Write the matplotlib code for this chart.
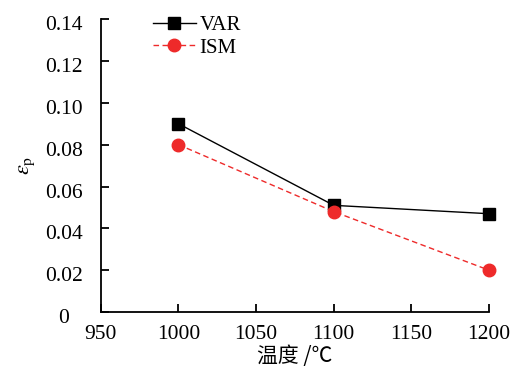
import matplotlib
matplotlib.use("Agg")
import matplotlib.pyplot as plt
import matplotlib.transforms as mtransforms
from matplotlib.ticker import FuncFormatter

# Data
temps = [1000, 1100, 1200]
var_vals = [0.090, 0.051, 0.047]
ism_vals = [0.080, 0.048, 0.020]
x_ticks = [950, 1000, 1050, 1100, 1150, 1200]
y_ticks = [0, 0.02, 0.04, 0.06, 0.08, 0.10, 0.12, 0.14]

plt.rcParams['font.family'] = ['Liberation Serif', 'Noto Sans CJK SC']
plt.rcParams['mathtext.fontset'] = 'stix'

fig = plt.figure(figsize=(5.17, 3.68), dpi=100)
ax = fig.add_axes([0.195, 0.152, 0.751, 0.796])

ax.plot(temps, var_vals, color='black', lw=1.0, marker='s', ms=8, label='VAR', clip_on=False)
ax.plot(temps, ism_vals, color='#ee2a2a', lw=1.0, ls='--', dashes=(4, 2.5),
        marker='o', ms=9, label='ISM', clip_on=False)

ax.set_xlim(950, 1200)
ax.set_ylim(0, 0.14)
ax.set_xticks(x_ticks)
ax.set_yticks(y_ticks)
ax.yaxis.set_major_formatter(FuncFormatter(lambda v, p: '0' if v == 0 else '%.2f' % v))

for side in ('top', 'right'):
    ax.spines[side].set_visible(False)
for side in ('left', 'bottom'):
    ax.spines[side].set_linewidth(1.3)
ax.tick_params(direction='in', length=6, width=1.3, labelsize=15.5, colors='black')
ax.tick_params(axis='x', pad=9)
ax.tick_params(axis='y', pad=26.5)

# y tick labels are centred in a column and sit slightly low, as in the reference
shift = mtransforms.ScaledTranslation(0, -4 / 100, fig.dpi_scale_trans)
for lab in ax.get_yticklabels():
    lab.set_ha('center')
    lab.set_transform(lab.get_transform() + shift)

ax.set_xlabel('温度 /℃', fontsize=15, family=['Noto Sans CJK SC'], labelpad=1)
ax.set_ylabel(r'$\varepsilon_\mathrm{p}$', fontsize=16, labelpad=6)

ax.legend(loc='upper left', bbox_to_anchor=(0.085, 1.077), frameon=False,
          fontsize=15, handlelength=2.1, handletextpad=0.15, labelspacing=0.15)

fig.savefig('out.png', dpi=100)
